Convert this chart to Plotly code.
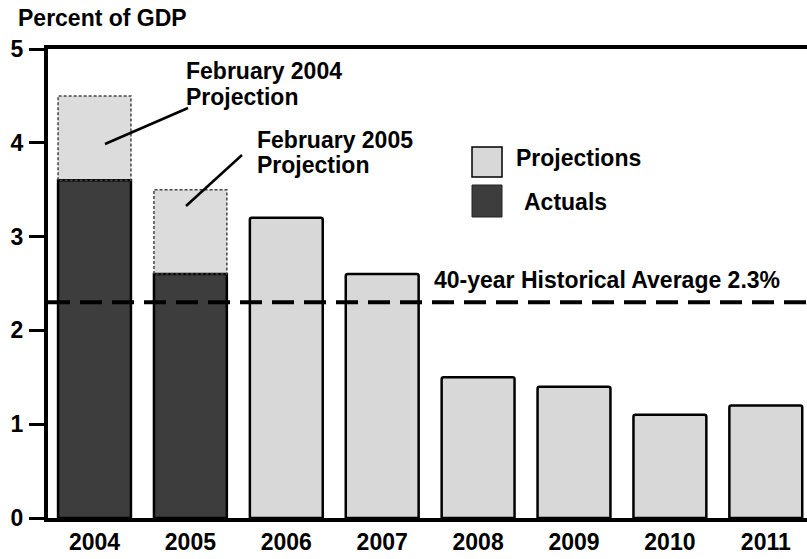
import plotly.graph_objects as go

years = ["2004", "2005", "2006", "2007", "2008", "2009", "2010", "2011"]
projections = [None, None, 3.2, 2.6, 1.5, 1.4, 1.1, 1.2]
actuals = [3.6, 2.6, None, None, None, None, None, None]
earlier_projections = [4.5, 3.5, None, None, None, None, None, None]  # Feb 2004 / Feb 2005 projections
historical_avg = 2.3
y_ticks = [0, 1, 2, 3, 4, 5]

FONT = "Arial, Liberation Sans, sans-serif"
LIGHT = "#d8d8d8"
DARK = "#3d3d3d"
BAR_W = 0.76
FS = 23

# plot-area pixel geometry helpers (for legend / labels only)
W, H = 807, 559
L, R, T, B = 48, 0, 49, 41
PW, PH = W - L - R, H - T - B
UNIT = 95.9          # px per category
FIRST_CENTER = 94.5  # px of first category centre


def px(x):
    return (x - L) / PW


def py(y):
    return (H - B - y) / PH


xs = list(range(len(years)))
x_range = [-(FIRST_CENTER - L) / UNIT, -(FIRST_CENTER - L) / UNIT + PW / UNIT]

fig = go.Figure()

# earlier projection boxes (stacked on top of actuals), no outline
proj_idx = [i for i, v in enumerate(earlier_projections) if v is not None]
fig.add_trace(go.Bar(
    x=[xs[i] for i in proj_idx],
    y=[earlier_projections[i] - actuals[i] for i in proj_idx],
    base=[actuals[i] for i in proj_idx],
    width=BAR_W, marker=dict(color="#dcdcdc", line=dict(width=0)),
    showlegend=False, hoverinfo="skip"))

# dashed outline of the earlier projection boxes
ox, oy = [], []
for i in proj_idx:
    x0, x1 = xs[i] - BAR_W / 2, xs[i] + BAR_W / 2
    ox += [x0, x0, x1, x1, x0, None]
    oy += [actuals[i], earlier_projections[i], earlier_projections[i], actuals[i], actuals[i], None]
fig.add_trace(go.Scatter(x=ox, y=oy, mode="lines",
                         line=dict(color="#444444", width=1.5, dash="3px,2px"),
                         showlegend=False, hoverinfo="skip"))

# actuals
fig.add_trace(go.Bar(x=xs, y=actuals, width=BAR_W, name="Actuals",
                     marker=dict(color=DARK, line=dict(color="black", width=2.5), cornerradius=2),
                     showlegend=False))
# projections
fig.add_trace(go.Bar(x=xs, y=projections, width=BAR_W, name="Projections",
                     marker=dict(color=LIGHT, line=dict(color="black", width=2.5), cornerradius=2),
                     showlegend=False))

# historical average line
fig.add_trace(go.Scatter(x=[x_range[0], x_range[1] + 1], y=[historical_avg, historical_avg], mode="lines",
                         line=dict(color="black", width=4, dash="22px,10px"),
                         showlegend=False, hoverinfo="skip"))


def label(text, x, y):
    return dict(text=f"<b>{text}</b>", xref="paper", yref="paper", x=px(x), y=py(y),
                xanchor="left", yanchor="middle", showarrow=False, font=dict(size=FS))


annotations = [
    label("Percent of GDP", 16, 18),
    label("February 2004", 184, 71),
    label("Projection", 184, 97),
    label("February 2005", 255, 140),
    label("Projection", 255, 165),
    label(f"40-year Historical Average {historical_avg}%", 432, 280),
    label("Projections", 514, 158),
    label("Actuals", 522, 202),
]

shapes = [
    # leader lines
    dict(type="line", xref="paper", yref="paper", x0=px(105), y0=py(144), x1=px(188), y1=py(108),
         line=dict(color="black", width=2.5)),
    dict(type="line", xref="paper", yref="paper", x0=px(186), y0=py(206), x1=px(242), y1=py(155),
         line=dict(color="black", width=2.5)),
    # legend swatches
    dict(type="rect", xref="paper", yref="paper", x0=px(472), x1=px(502), y0=py(147), y1=py(177),
         fillcolor=LIGHT, line=dict(color="black", width=1.5)),
    dict(type="rect", xref="paper", yref="paper", x0=px(472), x1=px(502), y0=py(185), y1=py(217),
         fillcolor=DARK, line=dict(color="#222222", width=1)),
]

fig.update_layout(
    width=W, height=H, margin=dict(l=L, r=R, t=T, b=B, autoexpand=False),
    paper_bgcolor="white", plot_bgcolor="white",
    font=dict(family=FONT, color="black", size=FS),
    barmode="overlay", showlegend=False,
    annotations=annotations, shapes=shapes,
    xaxis=dict(range=x_range, tickvals=xs, ticktext=[f"<b>{y}</b>" for y in years],
               showline=True, linecolor="black", linewidth=4, mirror=True,
               ticks="", showgrid=False, zeroline=False, tickfont=dict(size=FS)),
    yaxis=dict(range=[0, 5], tickvals=y_ticks, ticktext=[f"<b>{v}</b>" for v in y_ticks],
               showline=True, linecolor="black", linewidth=4,
               ticks="outside", ticklen=15, tickwidth=2.5, tickcolor="black",
               showgrid=False, zeroline=False, tickfont=dict(size=FS), ticklabelstandoff=1),
)

fig.write_html("out.html", config={"displayModeBar": False},
               post_script="document.body.style.margin='0';")
